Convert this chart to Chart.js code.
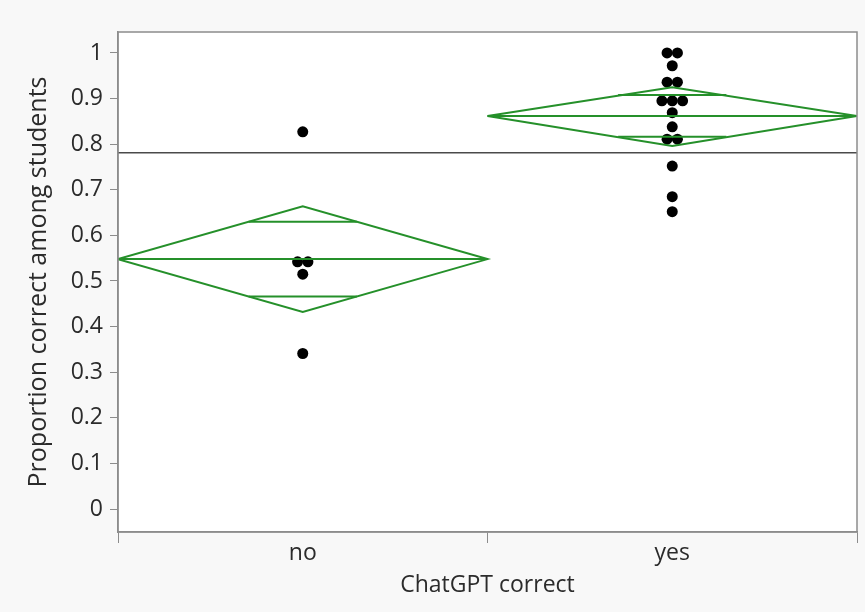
<!DOCTYPE html>
<html>
<head>
<meta charset="utf-8">
<script src="https://cdn.jsdelivr.net/npm/chart.js@4.4.0/dist/chart.umd.min.js"></script>
<style>
  html, body { margin: 0; padding: 0; background: #f8f8f8; }
  #wrap { width: 865px; height: 612px; }
</style>
</head>
<body>
<div id="wrap"><canvas id="myChart" width="865" height="612"></canvas></div>
<script>
// data
const categories = ['no', 'yes'];
const noValues = [0.827, 0.542, 0.542, 0.515, 0.341];
const yesValues = [1.0, 1.0, 0.972, 0.936, 0.936, 0.895, 0.895, 0.895, 0.869, 0.838, 0.811, 0.811, 0.752, 0.685, 0.652];
const groupMeans = [0.548, 0.862];
const ciLower = [0.432, 0.796];
const ciUpper = [0.664, 0.925];
const grandMean = 0.781;
const yTicks = [0, 0.1, 0.2, 0.3, 0.4, 0.5, 0.6, 0.7, 0.8, 0.9, 1];

const green = '#25902a';
const textColor = '#2b2b2b';
const axisColor = '#8c8c8c';

// spread equal values sideways like a dot plot
function swarm(values, center) {
    const counts = {};
    values.forEach(v => { counts[v] = (counts[v] || 0) + 1; });
    const seen = {};
    return values.map(v => {
        const n = counts[v];
        const k = seen[v] || 0;
        seen[v] = k + 1;
        return { x: center + (k - (n - 1) / 2) * 0.028, y: v };
    });
}

const lineStyle = {
    type: 'scatter',
    showLine: true,
    borderColor: green,
    borderWidth: 2,
    pointRadius: 0,
    pointHoverRadius: 0,
    fill: false
};

const datasets = [];
categories.forEach((cat, i) => {
    const m = groupMeans[i], lo = ciLower[i], hi = ciUpper[i];
    datasets.push(Object.assign({}, lineStyle, {
        data: [{x: i - 0.5, y: m}, {x: i, y: hi}, {x: i + 0.5, y: m}, {x: i, y: lo}, {x: i - 0.5, y: m}]
    }));
    datasets.push(Object.assign({}, lineStyle, {
        data: [{x: i - 0.5, y: m}, {x: i + 0.5, y: m}]
    }));
    // overlap marks at mean +/- half CI / sqrt(2)
    const d = (hi - lo) / 2 / Math.SQRT2;
    const w = 0.5 * (1 - 1 / Math.SQRT2);
    datasets.push(Object.assign({}, lineStyle, {
        data: [{x: i - w, y: m + d}, {x: i + w, y: m + d}]
    }));
    datasets.push(Object.assign({}, lineStyle, {
        data: [{x: i - w, y: m - d}, {x: i + w, y: m - d}]
    }));
});

datasets.push(Object.assign({}, lineStyle, {
    borderColor: '#4a4a4a',
    borderWidth: 1.5,
    data: [{x: -0.5, y: grandMean}, {x: 1.5, y: grandMean}]
}));

datasets.push({
    type: 'scatter',
    data: swarm(noValues, 0).concat(swarm(yesValues, 1)),
    backgroundColor: '#000000',
    borderColor: '#000000',
    pointRadius: 5.5,
    pointBorderWidth: 0
});

const frame = {
    id: 'frame',
    beforeDraw(chart) {
        const {ctx, chartArea: a} = chart;
        ctx.save();
        ctx.fillStyle = '#ffffff';
        ctx.fillRect(a.left, a.top, a.right - a.left, a.bottom - a.top);
        ctx.restore();
    },
    afterDraw(chart) {
        const {ctx, chartArea: a} = chart;
        ctx.save();
        ctx.strokeStyle = axisColor;
        ctx.lineWidth = 1.5;
        ctx.strokeRect(a.left, a.top, a.right - a.left, a.bottom - a.top);
        ctx.restore();
    }
};

const ctx = document.getElementById('myChart').getContext('2d');
new Chart(ctx, {
    type: 'scatter',
    data: { datasets: datasets },
    plugins: [frame],
    options: {
        responsive: false,
        animation: false,
        events: [],
        layout: { padding: { top: 32, right: 8, bottom: 0, left: 0 } },
        plugins: { legend: { display: false }, tooltip: { enabled: false } },
        scales: {
            x: {
                type: 'linear',
                min: -0.5,
                max: 1.5,
                afterBuildTicks: (s) => { s.ticks = [-0.5, 0, 0.5, 1, 1.5].map(v => ({ value: v })); },
                afterFit: (s) => { s.height = 80; },
                ticks: {
                    autoSkip: false,
                    maxRotation: 0,
                    padding: -3,
                    color: textColor,
                    font: { family: 'Open Sans', size: 23 },
                    callback: (v) => v === 0 ? categories[0] : (v === 1 ? categories[1] : '')
                },
                grid: {
                    drawOnChartArea: false,
                    tickLength: 11,
                    tickColor: (c) => (c.tick && Number.isInteger(c.tick.value)) ? 'rgba(0,0,0,0)' : axisColor
                },
                border: { color: axisColor, width: 1.5 },
                title: {
                    display: true,
                    text: 'ChatGPT correct',
                    color: textColor,
                    font: { family: 'Open Sans', size: 23 },
                    padding: { top: 0, bottom: 13 }
                }
            },
            y: {
                min: -0.0504,
                max: 1.046,
                afterBuildTicks: (s) => { s.ticks = yTicks.map(v => ({ value: v })); },
                afterFit: (s) => { s.width = 118; },
                ticks: {
                    padding: 7,
                    color: textColor,
                    font: { family: 'Open Sans', size: 23 },
                    callback: (v) => String(Math.round(v * 10) / 10)
                },
                grid: { drawOnChartArea: false, tickLength: 8, tickColor: axisColor },
                border: { color: axisColor, width: 1.5 },
                title: {
                    display: true,
                    text: 'Proportion correct among students',
                    color: textColor,
                    font: { family: 'Open Sans', size: 25 },
                    padding: { top: 24, bottom: 0 }
                }
            }
        }
    }
});
</script>
</body>
</html>
